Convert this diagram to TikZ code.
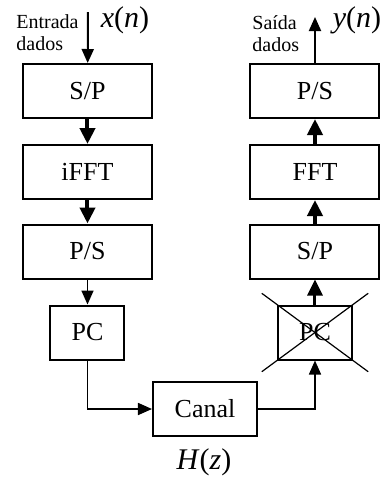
\documentclass[tikz,border=0pt]{standalone}
\usepackage{fontspec}
\setmainfont{Liberation Serif}
\usepackage{tikz}
\usetikzlibrary{arrows.meta,calc}

\begin{document}
\begin{tikzpicture}[x=0.5pt,y=-0.5pt]
      \tikzstyle{block} = [draw, line width=1pt, minimum height=27pt, inner sep=0pt, font=\fontsize{13}{15}\selectfont]
      \tikzstyle{wide} = [block, minimum width=64.5pt]
      \tikzstyle{small} = [block, minimum width=37pt]
      \tikzstyle{fat} = [line width=2pt, -{Triangle[length=8pt,width=7.5pt]}]
      \tikzstyle{slim} = [line width=0.8pt, -{Triangle[length=7pt,width=6pt]}]
      \tikzstyle{label} = [inner sep=0pt, align=left, font=\fontsize{10}{11}\selectfont]
      \tikzstyle{signal} = [inner sep=0pt, font=\fontsize{15}{15}\selectfont]
      \useasboundingbox (0,0) rectangle (385,479);
      % transmissor
      \node[wide] (sp1) at (87.5,91) {S/P};
      \node[wide] (ifft) at (87.5,172) {iFFT};
      \node[wide] (ps1) at (87.5,251.5) {P/S};
      \node[small] (pc1) at (87.5,332.5) {PC};
      % canal
      \node[block, minimum width=52pt] (canal) at (205,409) {Canal};
      \node[signal] (hz) at (204,462) {\textit{H}(\textit{z})};
      % receptor
      \node[small] (pc2) at (315,332.5) {PC};
      \node[wide] (sp2) at (315,251.5) {S/P};
      \node[wide] (fft) at (315,172) {FFT};
      \node[wide] (ps2) at (315,91) {P/S};
      % entrada / saida
      \coordinate (in) at (88,12);
      \coordinate (out) at (315,17);
      \node[label, anchor=west] (entrada) at (16,33) {Entrada\\dados};
      \node[label, anchor=west] (saida) at (252,34) {Sa\'{\i}da\\dados};
      \node[signal] (xn) at (125,20) {\textit{x}(\textit{n})};
      \node[signal] (yn) at (357,20) {\textit{y}(\textit{n})};
      \draw[slim, line width=1pt] (in) -- (sp1);
      \draw[fat] (sp1) -- (ifft);
      \draw[fat] (ifft) -- (ps1);
      \draw[slim] (ps1) -- (pc1);
      \draw[slim] (pc1) |- (canal);
      \draw[slim] (canal) -| (pc2);
      \draw[fat, line width=1.5pt] (pc2) -- (sp2);
      \draw[fat] (sp2) -- (fft);
      \draw[fat] (fft) -- (ps2);
      \draw[slim, line width=1pt] (ps2) -- (out);
      % PC removido
      \draw[line width=0.6pt] ($(pc2.north west)!-.2!(pc2.south east)$) -- ($(pc2.south east)!-.2!(pc2.north west)$);
      \draw[line width=0.6pt] ($(pc2.south west)!-.2!(pc2.north east)$) -- ($(pc2.north east)!-.2!(pc2.south west)$);
\end{tikzpicture}
\end{document}
